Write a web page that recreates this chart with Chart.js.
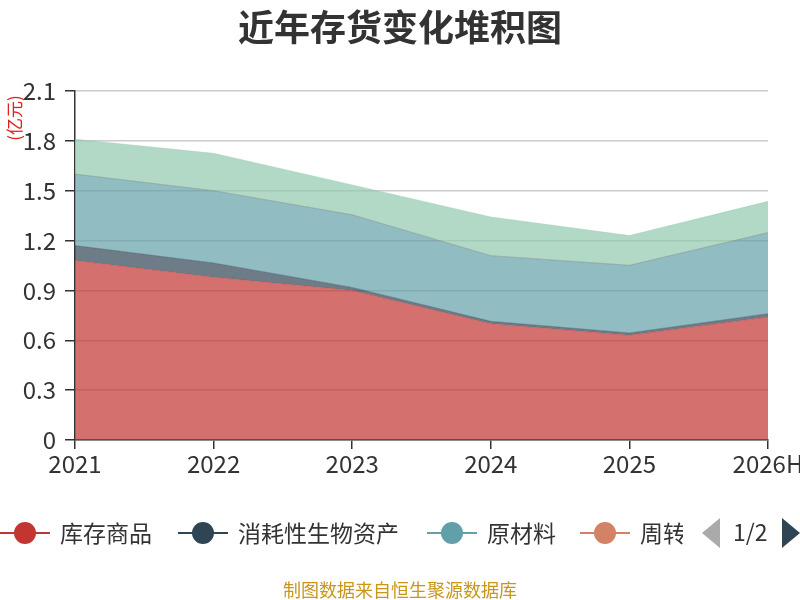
<!DOCTYPE html>
<html>
<head>
<meta charset="utf-8">
<script src="https://cdn.jsdelivr.net/npm/chart.js@4/dist/chart.umd.min.js"></script>
<style>
  body { margin: 0; background: #fff; font-family: "Noto Sans CJK SC", sans-serif; }
  #wrap { position: relative; width: 800px; height: 600px; overflow: hidden; }
  #title { position: absolute; top: -1px; left: 0; width: 800px; text-align: center; font-size: 36px; font-weight: bold; color: #333; }
  #unit { position: absolute; left: -11px; top: 109px; width: 50px; text-align: center; transform: rotate(-90deg); font-size: 17px; line-height: 18px; color: #e0201b; }
  #legend { position: absolute; top: 513px; left: 0; width: 683px; height: 40px; overflow: hidden; white-space: nowrap; }
  .item { position: absolute; top: 0; height: 40px; }
  .item .ln { position: absolute; top: 19px; left: 0; width: 50px; height: 2px; }
  .item .dot { position: absolute; top: 9px; left: 14px; width: 22px; height: 22px; border-radius: 50%; }
  .item .tx { position: absolute; left: 60px; top: 2px; font-size: 23px; color: #333; }
  #pager { position: absolute; top: 517px; left: 700px; width: 100px; height: 32px; }
  #pager .l { position: absolute; left: 2px; top: 1px; width: 0; height: 0; border-top: 15px solid transparent; border-bottom: 15px solid transparent; border-right: 18px solid #aaa; }
  #pager .r { position: absolute; left: 82px; top: 1px; width: 0; height: 0; border-top: 15px solid transparent; border-bottom: 15px solid transparent; border-left: 18px solid #2f4554; }
  #pager .n { position: absolute; left: 33px; top: -3px; font-size: 23px; color: #333; }
  #source { position: absolute; top: 576px; left: 0; width: 800px; text-align: center; font-size: 18px; color: #c9961a; }
</style>
</head>
<body>
<div id="wrap">
  <canvas id="chart" width="800" height="600"></canvas>
  <div id="title">近年存货变化堆积图</div>
  <div id="unit">(亿元)</div>
  <div id="legend"></div>
  <div id="pager"><div class="l"></div><div class="n">1/2</div><div class="r"></div></div>
  <div id="source">制图数据来自恒生聚源数据库</div>
</div>
<script>
const years = ['2021', '2022', '2023', '2024', '2025', '2026H']
const yTicks = [0, 0.3, 0.6, 0.9, 1.2, 1.5, 1.8, 2.1]

const seriesNames = ['库存商品', '消耗性生物资产', '原材料', '周转材料', '在产品']
const kucun = [1.08, 0.98, 0.9, 0.7, 0.63, 0.74]
const shengwu = [0.09, 0.085, 0.018, 0.014, 0.014, 0.02]
const yuancailiao = [0.43, 0.435, 0.437, 0.395, 0.407, 0.488]
const zhouzhuan = [0, 0, 0, 0, 0, 0]
const zaichanpin = [0.21, 0.225, 0.18, 0.233, 0.179, 0.188]

const colors = ['#c23531', '#2f4554', '#61a0a8', '#d48265', '#91c7ae']
const values = [kucun, shengwu, yuancailiao, zhouzhuan, zaichanpin]

function alpha(hex, a) {
  const n = parseInt(hex.slice(1), 16)
  return 'rgba(' + (n >> 16) + ',' + ((n >> 8) & 255) + ',' + (n & 255) + ',' + a + ')'
}

// legend, first page only like the original
const legendX = [0, 178, 427, 580]
const legend = document.querySelector('#legend')
legendX.forEach((x, i) => {
  const el = document.createElement('div')
  el.className = 'item'
  el.style.left = x + 'px'
  el.innerHTML = '<div class="ln" style="background:' + colors[i] + '"></div>' +
    '<div class="dot" style="background:' + colors[i] + '"></div>' +
    '<div class="tx">' + seriesNames[i] + '</div>'
  legend.appendChild(el)
})

const datasets = values.map((data, i) => ({
  label: seriesNames[i],
  data: data,
  backgroundColor: alpha(colors[i], 0.7),
  borderColor: alpha(colors[i], 0.35),
  borderWidth: 1,
  pointRadius: 0,
  fill: i === 0 ? 'origin' : '-1',
  tension: 0
}))

const ctx = document.querySelector('#chart')

const myChart = new Chart(ctx, {
  type: 'line',
  data: {
    labels: years,
    datasets: datasets
  },
  options: {
    responsive: false,
    animation: false,
    layout: { padding: { top: 91, right: 32, bottom: 0, left: 0 } },
    plugins: {
      legend: { display: false },
      tooltip: { enabled: false }
    },
    scales: {
      x: {
        offset: false,
        grid: { drawOnChartArea: false, drawTicks: true, tickLength: 9, color: '#333', lineWidth: 1.5 },
        border: { color: '#333', width: 1.5 },
        ticks: { color: '#333', font: { size: 24, family: 'Noto Sans CJK SC' }, padding: 0, maxRotation: 0 },
        afterFit: (scale) => {
          scale.height = 160
          scale.paddingRight = 0
          scale.paddingLeft = 0
        }
      },
      y: {
        stacked: true,
        min: 0,
        max: 2.1,
        afterBuildTicks: (scale) => { scale.ticks = yTicks.map(v => ({ value: v })) },
        grid: { color: '#ccc', lineWidth: 1.5, tickLength: 10, tickColor: '#333' },
        border: { color: '#333', width: 1.5 },
        ticks: { color: '#333', font: { size: 24, family: 'Noto Sans CJK SC' }, padding: 9 },
        afterFit: (scale) => { scale.width = 75 }
      }
    }
  }
})
</script>
</body>
</html>
